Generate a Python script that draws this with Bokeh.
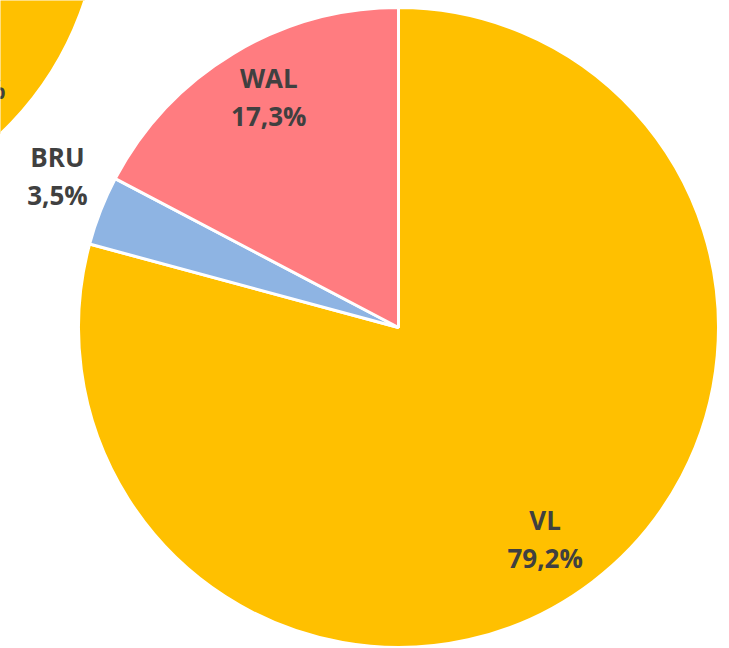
import math
from bokeh.plotting import figure
from bokeh.models import Range1d, ColumnDataSource
from bokeh.core.properties import value
from bokeh.embed import file_html
from bokeh.resources import INLINE

# ---- data ----
regions = ["VL", "BRU", "WAL"]
shares = [79.2, 3.5, 17.3]
labels = ["79,2%", "3,5%", "17,3%"]
colors = ["#FFC000", "#8EB4E3", "#FF7C80"]

# partially visible neighbouring pie (top-left corner, mostly cropped)
other_regions = ["VL", "BRU", "WAL"]
other_shares = [74.3, 5.0, 20.7]
other_labels = ["74,3%", "5,0%", "20,7%"]
other_colors = ["#FFC000", "#8EB4E3", "#FF7C80"]
other_label_shown = [True, False, False]   # only the VL label reaches into view

# ---- layout ----
W, H = 729, 648
CX, CY, R = 398, 648 - 327, 320
OCX, OCY = -220, 648 + 99
label_r = [0.80, 1.165, 0.82]          # label distance (fraction of radius)
label_nudge = [(-9, -8), (6, 15), (6, 6)]
other_label_r = [0.81, 0.81, 0.81]
other_label_nudge = [(0, 11), (0, 0), (0, 0)]
line_gap = 19

p = figure(width=W, height=H, output_backend="svg", toolbar_location=None,
           x_range=Range1d(0, W), y_range=Range1d(0, H),
           min_border=0, outline_line_color=None, background_fill_color="white",
           border_fill_color="white")
p.axis.visible = False
p.grid.visible = False


def draw_pie(cx, cy, vals, cols, names, pcts, lr, ln, shown=None):
    tot = sum(vals)
    starts, ends, mids = [], [], []
    cum = 0
    for v in vals:
        s = math.pi / 2 - 2 * math.pi * cum / tot
        e = math.pi / 2 - 2 * math.pi * (cum + v) / tot
        starts.append(s); ends.append(e); mids.append((s + e) / 2)
        cum += v
    src = ColumnDataSource(dict(start=starts, end=ends, color=cols))
    p.wedge(x=cx, y=cy, radius=R, start_angle="start", end_angle="end", direction="clock",
            fill_color="color", line_color="white", line_width=3, source=src)
    if shown is None:
        shown = [True] * len(vals)
    lx, ly1, ly2, nm, pc = [], [], [], [], []
    for i, (m, rf, (nx, ny)) in enumerate(zip(mids, lr, ln)):
        if not shown[i]:
            continue
        x = cx + R * rf * math.cos(m) + nx
        y = cy + R * rf * math.sin(m) + ny
        lx.append(x); ly1.append(y + line_gap); ly2.append(y - line_gap)
        nm.append(names[i]); pc.append(pcts[i])
    lsrc = ColumnDataSource(dict(x=lx, y1=ly1, y2=ly2, name=nm, pct=pc))
    for ycol, tcol in (("y1", "name"), ("y2", "pct")):
        p.text(x="x", y=ycol, text=tcol, source=lsrc, text_align="center",
               text_baseline="middle", text_font=value("Open Sans"),
               text_font_style="bold", text_font_size="26px", text_color="#404040")


draw_pie(OCX, OCY, other_shares, other_colors, other_regions, other_labels,
         other_label_r, other_label_nudge, other_label_shown)
draw_pie(CX, CY, shares, colors, regions, labels, label_r, label_nudge)

open("out.html", "w").write(file_html(p, INLINE))
